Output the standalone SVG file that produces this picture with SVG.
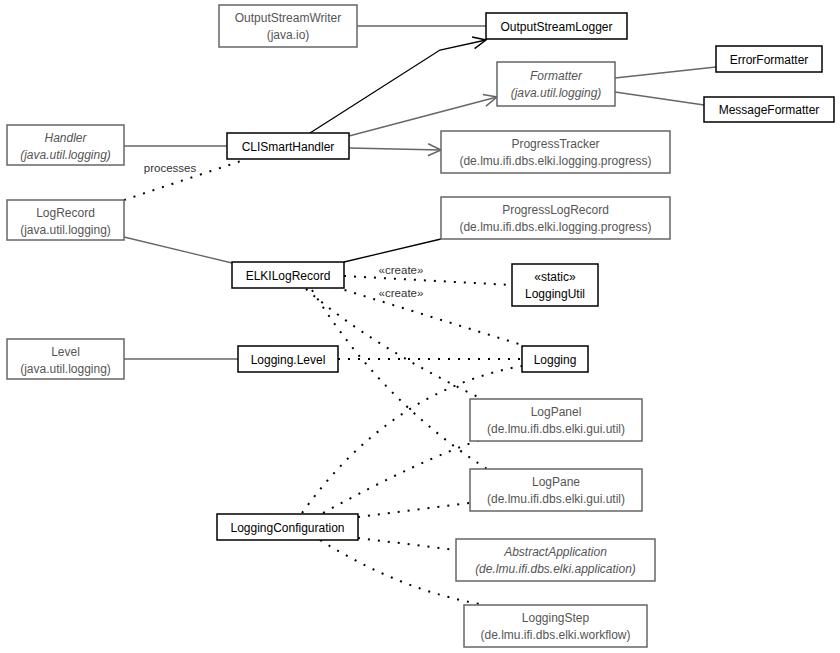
<svg xmlns="http://www.w3.org/2000/svg" width="840" height="653" viewBox="0 0 840 653">
<style>
text{font-family:"Liberation Sans",Arial,sans-serif;font-size:12px;text-anchor:middle}
.g rect{fill:#fff;stroke:#666;stroke-width:1.5}
.g text{fill:#555}
.b rect{fill:#fff;stroke:#000;stroke-width:1.5}
.b text{fill:#000}
.i{font-style:italic}
.sg{fill:none;stroke:#666;stroke-width:1.3}
.sb{fill:none;stroke:#000;stroke-width:1.3}
.d{fill:none;stroke:#000;stroke-width:2;stroke-dasharray:2 8}
.lbl{fill:#333;font-size:11.5px}
</style>
<defs>
<marker id="ab" markerWidth="16" markerHeight="14" refX="14" refY="7" orient="auto" markerUnits="userSpaceOnUse"><path d="M1,1 L14,7 L1,13" fill="none" stroke="#000" stroke-width="1.5"/></marker>
<marker id="ag" markerWidth="16" markerHeight="14" refX="14" refY="7" orient="auto" markerUnits="userSpaceOnUse"><path d="M1,1 L14,7 L1,13" fill="none" stroke="#666" stroke-width="1.5"/></marker>
</defs>
<rect width="840" height="653" fill="#fff"/>
<g id="connectors">
<line class="sg" x1="357" y1="26" x2="486" y2="26"/>
<polyline class="sb" points="310,133 440,50 486,40" marker-end="url(#ab)"/>
<line class="sg" x1="349" y1="136" x2="497" y2="97" marker-end="url(#ag)"/>
<line class="sg" x1="349" y1="148" x2="441" y2="150" marker-end="url(#ag)"/>
<line class="sg" x1="124" y1="146" x2="227" y2="146"/>
<line class="sg" x1="124" y1="237" x2="232" y2="263"/>
<line class="sb" x1="344" y1="262" x2="441" y2="239"/>
<line class="sg" x1="615" y1="78" x2="716" y2="67"/>
<line class="sg" x1="615" y1="92" x2="704" y2="105"/>
<line class="sg" x1="124" y1="359" x2="238" y2="359"/>
<line class="d" x1="124" y1="200" x2="247" y2="159"/>
<text class="lbl" x="170" y="172">processes</text>
<line class="d" x1="344" y1="276" x2="512" y2="285"/>
<text class="lbl" x="401" y="274">«create»</text>
<line class="d" x1="335" y1="287" x2="522" y2="345"/>
<text class="lbl" x="401" y="297">«create»</text>
<line class="d" x1="338" y1="359" x2="522" y2="359"/>
<path class="d" d="M306,289 Q370,345 480,398"/>
<path class="d" d="M312,290 Q380,400 487,469"/>
<path class="d" d="M302,513 Q390,390 522,366"/>
<path class="d" d="M323,513 Q420,460 480,440"/>
<line class="d" x1="358" y1="517" x2="470" y2="503"/>
<line class="d" x1="358" y1="538" x2="456" y2="550"/>
<path class="d" d="M320,540 Q400,590 480,604"/>
</g>
<g id="OutputStreamWriter" class="g"><rect x="219" y="5" width="138" height="42"/><text x="288" y="22">OutputStreamWriter</text><text x="288" y="39">(java.io)</text></g>
<g id="OutputStreamLogger" class="b"><rect x="486" y="13" width="141" height="26"/><text x="556.5" y="30.5">OutputStreamLogger</text></g>
<g id="Formatter" class="g"><rect x="497" y="62" width="118" height="44"/><text class="i" x="556" y="80">Formatter</text><text class="i" x="556" y="97">(java.util.logging)</text></g>
<g id="ErrorFormatter" class="b"><rect x="716" y="46" width="106" height="26"/><text x="769" y="63.5">ErrorFormatter</text></g>
<g id="MessageFormatter" class="b"><rect x="704" y="97" width="130" height="25"/><text x="769" y="114">MessageFormatter</text></g>
<g id="Handler" class="g"><rect x="7" y="125" width="117" height="40"/><text class="i" x="65.5" y="142">Handler</text><text class="i" x="65.5" y="159">(java.util.logging)</text></g>
<g id="CLISmartHandler" class="b"><rect x="227" y="133" width="122" height="26"/><text x="288" y="150.5">CLISmartHandler</text></g>
<g id="ProgressTracker" class="g"><rect x="441" y="131" width="229" height="42"/><text x="555.5" y="148">ProgressTracker</text><text x="555.5" y="165">(de.lmu.ifi.dbs.elki.logging.progress)</text></g>
<g id="LogRecord" class="g"><rect x="7" y="200" width="117" height="40"/><text x="65.5" y="217">LogRecord</text><text x="65.5" y="234">(java.util.logging)</text></g>
<g id="ProgressLogRecord" class="g"><rect x="441" y="197" width="229" height="42"/><text x="555.5" y="214">ProgressLogRecord</text><text x="555.5" y="231">(de.lmu.ifi.dbs.elki.logging.progress)</text></g>
<g id="ELKILogRecord" class="b"><rect x="232" y="262" width="112" height="26"/><text x="288" y="279.5">ELKILogRecord</text></g>
<g id="LoggingUtil" class="b"><rect x="512" y="264" width="86" height="42"/><text x="555" y="281">«static»</text><text x="555" y="298">LoggingUtil</text></g>
<g id="Level" class="g"><rect x="7" y="339" width="117" height="40"/><text x="65.5" y="356">Level</text><text x="65.5" y="373">(java.util.logging)</text></g>
<g id="LoggingLevel" class="b"><rect x="238" y="346" width="100" height="26"/><text x="288" y="363.5">Logging.Level</text></g>
<g id="Logging" class="b"><rect x="522" y="346" width="66" height="26"/><text x="555" y="363.5">Logging</text></g>
<g id="LogPanel" class="g"><rect x="470" y="399" width="172" height="42"/><text x="556" y="416">LogPanel</text><text x="556" y="433">(de.lmu.ifi.dbs.elki.gui.util)</text></g>
<g id="LogPane" class="g"><rect x="470" y="469" width="172" height="42"/><text x="556" y="486">LogPane</text><text x="556" y="503">(de.lmu.ifi.dbs.elki.gui.util)</text></g>
<g id="LoggingConfiguration" class="b"><rect x="217" y="514" width="141" height="26"/><text x="287.5" y="531.5">LoggingConfiguration</text></g>
<g id="AbstractApplication" class="g"><rect x="456" y="539" width="199" height="42"/><text class="i" x="555.5" y="556">AbstractApplication</text><text class="i" x="555.5" y="573">(de.lmu.ifi.dbs.elki.application)</text></g>
<g id="LoggingStep" class="g"><rect x="464" y="605" width="183" height="42"/><text x="555.5" y="622">LoggingStep</text><text x="555.5" y="639">(de.lmu.ifi.dbs.elki.workflow)</text></g>
</svg>
